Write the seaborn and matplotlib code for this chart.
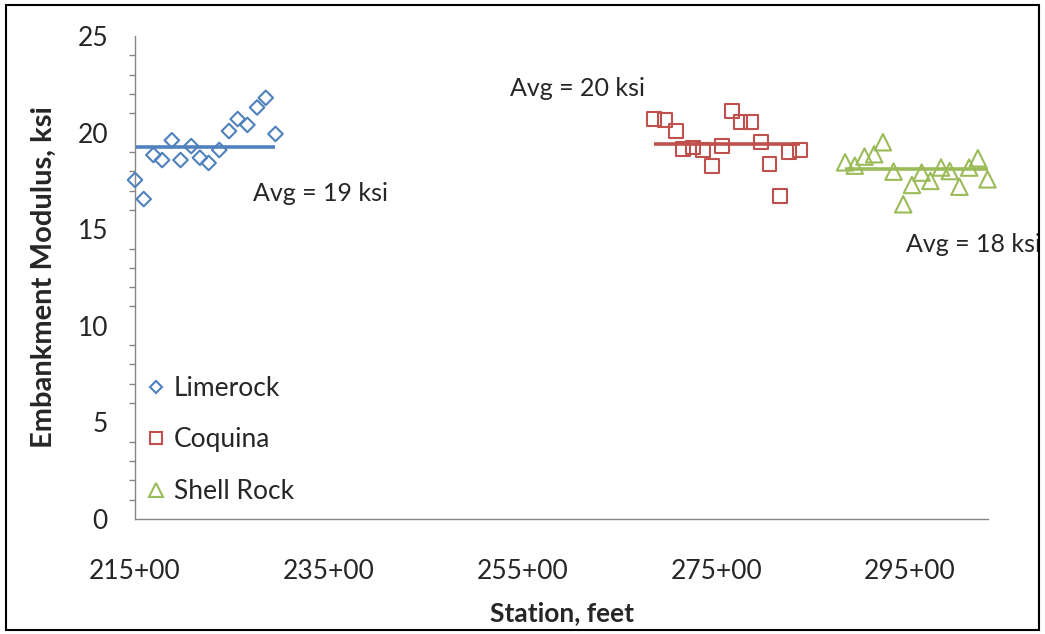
import numpy as np
import pandas as pd
import seaborn as sns
import matplotlib.pyplot as plt
from matplotlib.lines import Line2D
from matplotlib.patches import Rectangle
from matplotlib.ticker import FixedLocator, MultipleLocator

# Embankment modulus along the alignment (station in hundreds of feet)
lime_sta = [215.0, 215.9, 216.9, 217.8, 218.8, 219.7, 220.8, 221.7,
            222.6, 223.7, 224.7, 225.6, 226.6, 227.6, 228.5, 229.5]
lime_mod = [17.55, 16.56, 18.84, 18.58, 19.60, 18.58, 19.30, 18.70,
            18.43, 19.10, 20.08, 20.70, 20.40, 21.30, 21.80, 19.93]

coq_sta = [268.6, 269.7, 270.8, 271.6, 272.6, 273.6, 274.6, 275.6,
           276.6, 277.5, 278.6, 279.6, 280.5, 281.6, 282.5, 283.6]
coq_mod = [20.70, 20.65, 20.08, 19.15, 19.23, 19.10, 18.27, 19.31,
           21.13, 20.56, 20.56, 19.53, 18.37, 16.73, 18.98, 19.10]

shell_sta = [288.3, 289.3, 290.3, 291.3, 292.2, 293.3, 294.3, 295.2,
             296.2, 297.1, 298.2, 299.1, 300.1, 301.1, 302.0, 303.0]
shell_mod = [18.46, 18.29, 18.76, 18.88, 19.50, 17.98, 16.29, 17.29,
             17.93, 17.50, 18.19, 18.01, 17.20, 18.19, 18.67, 17.58]

materials = ["Limerock", "Coquina", "Shell Rock"]
avg_mod = [19.27, 19.41, 18.14]
avg_text = ["Avg = 19 ksi", "Avg = 20 ksi", "Avg = 18 ksi"]

x_ticks = [215, 235, 255, 275, 295]
x_ticklabels = ["215+00", "235+00", "255+00", "275+00", "295+00"]

colors = {"Limerock": "#4F81BD", "Coquina": "#C0504D", "Shell Rock": "#9BBB59"}
markers = {"Limerock": "D", "Coquina": "s", "Shell Rock": "^"}
msize = {"Limerock": 55, "Coquina": 100, "Shell Rock": 140}

df = pd.concat([
    pd.DataFrame({"Station": lime_sta, "Modulus": lime_mod, "Material": "Limerock"}),
    pd.DataFrame({"Station": coq_sta, "Modulus": coq_mod, "Material": "Coquina"}),
    pd.DataFrame({"Station": shell_sta, "Modulus": shell_mod, "Material": "Shell Rock"}),
])

sns.set_style("white")
plt.rcParams['font.family'] = ['Lato', 'DejaVu Sans']

fig = plt.figure(figsize=(10.45, 6.34), dpi=100)
ax = fig.add_axes([135 / 1045, 1 - 519 / 634, 853 / 1045, 483 / 634])

# average lines
for m, a in zip(materials, avg_mod):
    sub = df[df.Material == m]
    ax.plot([sub.Station.min(), sub.Station.max()], [a, a],
            color=colors[m], lw=2.6, zorder=2, solid_capstyle="butt")

for m in materials:
    sub = df[df.Material == m]
    sns.scatterplot(data=sub, x="Station", y="Modulus", ax=ax, marker=markers[m],
                    s=msize[m], facecolor="none", edgecolor=colors[m],
                    linewidth=1.5, legend=False, zorder=3, clip_on=False)

ax.text(227.2, 16.87, avg_text[0], fontsize=18, va="center", ha="left")
ax.text(253.7, 22.3, avg_text[1], fontsize=18, va="center", ha="left")
ax.text(294.6, 14.2, avg_text[2], fontsize=18, va="center", ha="left")

ax.set_xlim(215, 303.05)
ax.set_ylim(0, 25)
ax.xaxis.set_major_locator(FixedLocator(x_ticks))
ax.set_xticklabels(x_ticklabels)
ax.yaxis.set_major_locator(MultipleLocator(5))
ax.yaxis.set_minor_locator(MultipleLocator(1))

for side in ["top", "right"]:
    ax.spines[side].set_visible(False)
for side in ["left", "bottom"]:
    ax.spines[side].set_color("#868686")
    ax.spines[side].set_linewidth(1.0)

ax.tick_params(axis="both", which="major", direction="out", length=6.5, width=1,
               color="#868686", labelsize=19)
ax.tick_params(axis="y", which="major", pad=13)
ax.tick_params(axis="y", which="minor", direction="out", length=4.5, width=1,
               color="#868686", left=True)
ax.tick_params(axis="x", which="major", pad=22)

ax.set_xlabel("Station, feet", fontsize=19, fontweight="bold", labelpad=13)
ax.set_ylabel("Embankment Modulus, ksi", fontsize=21, fontweight="bold", labelpad=15)

handles = [Line2D([], [], ls="none", marker=markers[m], markersize=np.sqrt(msize[m]) * 0.8,
                  markerfacecolor="none", markeredgecolor=colors[m], markeredgewidth=1.5)
           for m in materials]
ax.legend(handles, materials, loc="lower left", bbox_to_anchor=(-0.012, -0.015),
          frameon=False, fontsize=19, handlelength=0.7, handletextpad=0.3,
          labelspacing=1.0, borderaxespad=0.45)

fig.patches.append(Rectangle((6 / 1045, 4 / 634), 1033 / 1045, 625 / 634,
                             transform=fig.transFigure, fill=False,
                             edgecolor="black", lw=1.5))

fig.savefig("out.png", dpi=100)
